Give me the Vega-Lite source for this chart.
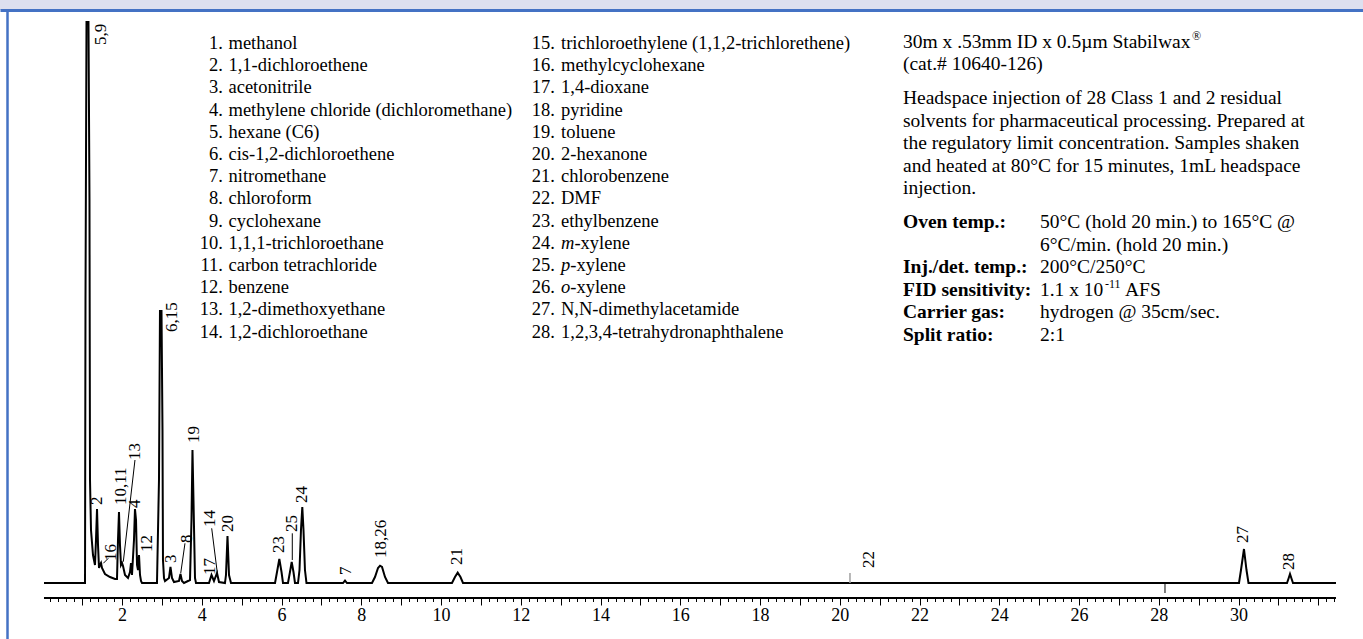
{
  "$schema": "https://vega.github.io/schema/vega-lite/v6.json",
  "width": 1363,
  "height": 629,
  "autosize": {"type": "none"},
  "padding": {"left": 0, "top": 10, "right": 0, "bottom": 0},
  "background": "#dde0ef",
  "config": {
    "view": {"fill": "white", "stroke": null},
    "font": "Liberation Serif",
    "text": {"font": "Liberation Serif", "color": "black"}
  },
  "datasets": {
    "chrom": [
      {"t":0.043,"s":0},{"t":1.047,"s":0},{"t":1.072,"s":0},{"t":1.084,"s":28.3},{"t":1.109,"s":56.1},{"t":1.159,"s":56.1},{"t":1.184,"s":38.3},{"t":1.197,"s":10.3},{"t":1.222,"s":5.3},{"t":1.272,"s":2.8},{"t":1.322,"s":1.8},{"t":1.347,"s":4.3},{"t":1.373,"s":7.4},{"t":1.398,"s":3.8},{"t":1.423,"s":1.5},{"t":1.448,"s":1.8},{"t":1.473,"s":2.0},{"t":1.498,"s":1.5},{"t":1.573,"s":0.9},{"t":1.699,"s":0.6},{"t":1.824,"s":0.4},{"t":1.874,"s":0.4},{"t":1.899,"s":4.3},{"t":1.924,"s":7.1},{"t":1.949,"s":3.8},{"t":1.974,"s":1.8},{"t":2.0,"s":2.0},{"t":2.025,"s":1.7},{"t":2.075,"s":0.8},{"t":2.15,"s":0.5},{"t":2.2,"s":1.1},{"t":2.225,"s":2.0},{"t":2.25,"s":0.8},{"t":2.3,"s":4.3},{"t":2.325,"s":7.4},{"t":2.351,"s":6.3},{"t":2.376,"s":1.8},{"t":2.401,"s":1.3},{"t":2.426,"s":2.8},{"t":2.451,"s":0.8},{"t":2.476,"s":0.2},{"t":2.501,"s":0},{"t":2.877,"s":0},{"t":2.927,"s":10.3},{"t":2.952,"s":27.2},{"t":2.99,"s":27.2},{"t":3.015,"s":15.3},{"t":3.027,"s":2.3},{"t":3.053,"s":0.5},{"t":3.078,"s":0.2},{"t":3.178,"s":0.5},{"t":3.215,"s":1.6},{"t":3.253,"s":0.5},{"t":3.303,"s":0.1},{"t":3.429,"s":0.2},{"t":3.466,"s":0.9},{"t":3.504,"s":0.2},{"t":3.554,"s":0},{"t":3.705,"s":0.3},{"t":3.742,"s":6.3},{"t":3.767,"s":13.3},{"t":3.792,"s":8.3},{"t":3.83,"s":0.5},{"t":3.855,"s":0},{"t":4.181,"s":0},{"t":4.244,"s":0.8},{"t":4.306,"s":0.2},{"t":4.382,"s":1.0},{"t":4.432,"s":0.1},{"t":4.582,"s":0},{"t":4.607,"s":0.8},{"t":4.645,"s":4.7},{"t":4.683,"s":0.8},{"t":4.733,"s":0},{"t":5.837,"s":0},{"t":5.887,"s":1.1},{"t":5.945,"s":2.4},{"t":6.0,"s":1.1},{"t":6.037,"s":0},{"t":6.162,"s":0},{"t":6.212,"s":1.1},{"t":6.255,"s":2.1},{"t":6.3,"s":1.1},{"t":6.338,"s":0},{"t":6.413,"s":0},{"t":6.451,"s":1.3},{"t":6.488,"s":5.3},{"t":6.521,"s":7.6},{"t":6.551,"s":5.3},{"t":6.588,"s":1.3},{"t":6.626,"s":0},{"t":7.542,"s":0},{"t":7.592,"s":0.25},{"t":7.642,"s":0},{"t":8.269,"s":0},{"t":8.344,"s":0.6},{"t":8.42,"s":1.5},{"t":8.47,"s":1.73},{"t":8.52,"s":1.6},{"t":8.595,"s":0.6},{"t":8.67,"s":0},{"t":10.275,"s":0},{"t":10.35,"s":0.6},{"t":10.418,"s":1.03},{"t":10.488,"s":0.6},{"t":10.551,"s":0},{"t":30.012,"s":0},{"t":30.062,"s":1.3},{"t":30.137,"s":3.4},{"t":30.2,"s":1.3},{"t":30.25,"s":0},{"t":31.216,"s":0},{"t":31.259,"s":0.5},{"t":31.291,"s":0.9},{"t":31.324,"s":0.5},{"t":31.366,"s":0},{"t":32.444,"s":0}
    ],
    "peaklabels": [
      {"label":"5,9","t":1.485,"s":53.8},
      {"label":"2","t":1.385,"s":7.8},
      {"label":"16","t":1.724,"s":2.2},
      {"label":"10,11","t":1.967,"s":7.8},
      {"label":"13","t":2.325,"s":12.3},
      {"label":"4","t":2.338,"s":7.5},
      {"label":"12","t":2.619,"s":3.1},
      {"label":"6,15","t":3.246,"s":25.1},
      {"label":"3","t":3.221,"s":2.0},
      {"label":"8","t":3.637,"s":4.0},
      {"label":"19","t":3.813,"s":14.0},
      {"label":"17","t":4.206,"s":0.8},
      {"label":"14","t":4.206,"s":5.6},
      {"label":"20","t":4.65,"s":5.1},
      {"label":"23","t":5.944,"s":3.0},
      {"label":"25","t":6.27,"s":5.1},
      {"label":"24","t":6.521,"s":8.0},
      {"label":"7","t":7.609,"s":0.8},
      {"label":"18,26","t":8.495,"s":2.5},
      {"label":"21","t":10.393,"s":1.8},
      {"label":"22","t":20.733,"s":1.5},
      {"label":"27","t":30.119,"s":4.0},
      {"label":"28","t":31.265,"s":1.3}
    ],
    "leaders": [
      {"peak":"16","t1":1.531,"s1":1.97,"t2":1.656,"s2":2.47},
      {"peak":"13","t1":2.032,"s1":2.13,"t2":2.325,"s2":12.3},
      {"peak":"8","t1":3.472,"s1":0.97,"t2":3.579,"s2":3.97},
      {"peak":"14","t1":4.249,"s1":5.47,"t2":4.389,"s2":1.03},
      {"peak":"25","t1":6.27,"s1":4.97,"t2":6.27,"s2":2.3}
    ],
    "legend": [
      {"col":1,"row":0,"num":"1.","name":"methanol"},
      {"col":1,"row":1,"num":"2.","name":"1,1-dichloroethene"},
      {"col":1,"row":2,"num":"3.","name":"acetonitrile"},
      {"col":1,"row":3,"num":"4.","name":"methylene chloride (dichloromethane)"},
      {"col":1,"row":4,"num":"5.","name":"hexane (C6)"},
      {"col":1,"row":5,"num":"6.","name":"cis-1,2-dichloroethene"},
      {"col":1,"row":6,"num":"7.","name":"nitromethane"},
      {"col":1,"row":7,"num":"8.","name":"chloroform"},
      {"col":1,"row":8,"num":"9.","name":"cyclohexane"},
      {"col":1,"row":9,"num":"10.","name":"1,1,1-trichloroethane"},
      {"col":1,"row":10,"num":"11.","name":"carbon tetrachloride"},
      {"col":1,"row":11,"num":"12.","name":"benzene"},
      {"col":1,"row":12,"num":"13.","name":"1,2-dimethoxyethane"},
      {"col":1,"row":13,"num":"14.","name":"1,2-dichloroethane"},
      {"col":2,"row":0,"num":"15.","name":"trichloroethylene (1,1,2-trichlorethene)"},
      {"col":2,"row":1,"num":"16.","name":"methylcyclohexane"},
      {"col":2,"row":2,"num":"17.","name":"1,4-dioxane"},
      {"col":2,"row":3,"num":"18.","name":"pyridine"},
      {"col":2,"row":4,"num":"19.","name":"toluene"},
      {"col":2,"row":5,"num":"20.","name":"2-hexanone"},
      {"col":2,"row":6,"num":"21.","name":"chlorobenzene"},
      {"col":2,"row":7,"num":"22.","name":"DMF"},
      {"col":2,"row":8,"num":"23.","name":"ethylbenzene"},
      {"col":2,"row":9,"num":"24.","it":"m","name":"-xylene"},
      {"col":2,"row":10,"num":"25.","it":"p","name":"-xylene"},
      {"col":2,"row":11,"num":"26.","it":"o","name":"-xylene"},
      {"col":2,"row":12,"num":"27.","name":"N,N-dimethylacetamide"},
      {"col":2,"row":13,"num":"28.","name":"1,2,3,4-tetrahydronaphthalene"}
    ],
    "info": [
      {"row":0,"kind":"text","text":"30m x .53mm ID x 0.5µm Stabilwax"},
      {"row":1,"kind":"text","text":"(cat.# 10640-126)"},
      {"row":2.5,"kind":"text","text":"Headspace injection of 28 Class 1 and 2 residual"},
      {"row":3.5,"kind":"text","text":"solvents for pharmaceutical processing. Prepared at"},
      {"row":4.5,"kind":"text","text":"the regulatory limit concentration. Samples shaken"},
      {"row":5.5,"kind":"text","text":"and heated at 80°C for 15 minutes, 1mL headspace"},
      {"row":6.5,"kind":"text","text":"injection."},
      {"row":8,"kind":"label","text":"Oven temp.:"},
      {"row":8,"kind":"value","text":"50°C (hold 20 min.) to 165°C @"},
      {"row":9,"kind":"value","text":"6°C/min. (hold 20 min.)"},
      {"row":10,"kind":"label","text":"Inj./det. temp.:"},
      {"row":10,"kind":"value","text":"200°C/250°C"},
      {"row":11,"kind":"label","text":"FID sensitivity:"},
      {"row":11,"kind":"value","text":"1.1 x 10"},
      {"row":12,"kind":"label","text":"Carrier gas:"},
      {"row":12,"kind":"value","text":"hydrogen @ 35cm/sec."},
      {"row":13,"kind":"label","text":"Split ratio:"},
      {"row":13,"kind":"value","text":"2:1"},
      {"row":0,"kind":"reg","text":"®"},
      {"row":11,"kind":"sup","text":"-11"},
      {"row":11,"kind":"afs","text":"AFS"}
    ]
  },
  "resolve": {"scale": {"y": "independent"}, "axis": {"x": "independent", "y": "independent"}},
  "layer": [
    {
      "data": {"name": "chrom"},
      "mark": {"type": "line", "color": "black", "strokeWidth": 2, "interpolate": "linear"},
      "encoding": {
        "x": {"field": "t", "type": "quantitative",
              "scale": {"domain": [-1.0601, 33.1218], "nice": false, "zero": false},
              "axis": {"orient": "bottom", "offset": -41, "values": [1,2,3,4,5,6,7,8,9,10,11,12,13,14,15,16,17,18,19,20,21,22,23,24,25,26,27,28,29,30,31,32],
                       "domain": false, "grid": false, "tickSize": 7, "tickWidth": 1, "tickColor": "black",
                       "labelExpr": "datum.value % 2 == 0 && datum.value <= 30 ? datum.label : ''",
                       "labelFont": "Liberation Serif", "labelFontSize": 18, "labelColor": "black", "labelPadding": 1,
                       "labelFlush": false, "labelOverlap": false, "title": null}},
        "y": {"field": "s", "type": "quantitative",
              "scale": {"domain": [-5.6, 57.3], "nice": false, "zero": false},
              "axis": {"orient": "left", "offset": -7, "domain": true, "domainColor": "#4472c4", "domainWidth": 2.5,
                       "ticks": false, "labels": false, "grid": false, "title": null}}
      }
    },
    {
      "data": {"values": [{"from": 0.043, "to": 32.444, "level": -1.5}]},
      "mark": {"type": "rule", "color": "black", "strokeWidth": 2},
      "encoding": {
        "x": {"field": "from", "type": "quantitative",
              "scale": {"domain": [-1.0601, 33.1218], "nice": false, "zero": false},
              "axis": {"orient": "bottom", "offset": -41, "values": [0.2,0.4,0.6,0.8,1.2,1.4,1.6,1.8,2.2,2.4,2.6,2.8,3.2,3.4,3.6,3.8,4.2,4.4,4.6,4.8,5.2,5.4,5.6,5.8,6.2,6.4,6.6,6.8,7.2,7.4,7.6,7.8,8.2,8.4,8.6,8.8,9.2,9.4,9.6,9.8,10.2,10.4,10.6,10.8,11.2,11.4,11.6,11.8,12.2,12.4,12.6,12.8,13.2,13.4,13.6,13.8,14.2,14.4,14.6,14.8,15.2,15.4,15.6,15.8,16.2,16.4,16.6,16.8,17.2,17.4,17.6,17.8,18.2,18.4,18.6,18.8,19.2,19.4,19.6,19.8,20.2,20.4,20.6,20.8,21.2,21.4,21.6,21.8,22.2,22.4,22.6,22.8,23.2,23.4,23.6,23.8,24.2,24.4,24.6,24.8,25.2,25.4,25.6,25.8,26.2,26.4,26.6,26.8,27.2,27.4,27.6,27.8,28.2,28.4,28.6,28.8,29.2,29.4,29.6,29.8,30.2,30.4,30.6,30.8,31.2,31.4,31.6,31.8,32.2,32.4],
                       "domain": false, "labels": false, "grid": false, "tickSize": 3.5, "tickWidth": 1, "tickColor": "black", "title": null}},
        "x2": {"field": "to"},
        "y": {"field": "level", "type": "quantitative", "scale": {"domain": [-5.6, 57.3], "nice": false, "zero": false}, "axis": null}
      }
    },
    {
      "data": {"values": [{"peak": "22", "t": 20.256, "lo": 0, "hi": 1.0}]},
      "mark": {"type": "rule", "color": "#a0a0a0", "strokeWidth": 1.5},
      "encoding": {
        "x": {"field": "t", "type": "quantitative",
              "scale": {"domain": [-1.0601, 33.1218], "nice": false, "zero": false},
              "axis": {"orient": "top", "domain": true, "domainColor": "#4472c4", "domainWidth": 3,
                       "ticks": false, "labels": false, "grid": false, "title": null}},
        "y": {"field": "lo", "type": "quantitative", "scale": {"domain": [-5.6, 57.3], "nice": false, "zero": false}, "axis": null},
        "y2": {"field": "hi"}
      }
    },
    {
      "data": {"values": [{"event": "mark", "t": 28.156, "lo": -1.0, "hi": 0}]},
      "mark": {"type": "rule", "color": "black", "strokeWidth": 1},
      "encoding": {
        "x": {"field": "t", "type": "quantitative", "scale": {"domain": [-1.0601, 33.1218], "nice": false, "zero": false}, "axis": null},
        "y": {"field": "lo", "type": "quantitative", "scale": {"domain": [-5.6, 57.3], "nice": false, "zero": false}, "axis": null},
        "y2": {"field": "hi"}
      }
    },
    {
      "data": {"name": "leaders"},
      "mark": {"type": "rule", "color": "black", "strokeWidth": 1},
      "encoding": {
        "x": {"field": "t1", "type": "quantitative", "scale": {"domain": [-1.0601, 33.1218], "nice": false, "zero": false}, "axis": null},
        "x2": {"field": "t2"},
        "y": {"field": "s1", "type": "quantitative", "scale": {"domain": [-5.6, 57.3], "nice": false, "zero": false}, "axis": null},
        "y2": {"field": "s2"}
      }
    },
    {
      "data": {"name": "peaklabels"},
      "mark": {"type": "text", "angle": 270, "align": "left", "baseline": "middle", "fontSize": 17, "font": "Liberation Serif", "color": "black"},
      "encoding": {
        "x": {"field": "t", "type": "quantitative", "scale": {"domain": [-1.0601, 33.1218], "nice": false, "zero": false}, "axis": null},
        "y": {"field": "s", "type": "quantitative", "scale": {"domain": [-5.6, 57.3], "nice": false, "zero": false}, "axis": null},
        "text": {"field": "label"}
      }
    },
    {
      "data": {"name": "legend"},
      "transform": [{"filter": "datum.col == 1"}],
      "mark": {"type": "text", "align": "right", "baseline": "middle", "fontSize": 18.5},
      "encoding": {
        "x": {"datum": 4.532, "type": "quantitative", "scale": {"domain": [-1.0601, 33.1218], "nice": false, "zero": false}, "axis": null},
        "y": {"field": "row", "type": "quantitative", "scale": {"domain": [-1.4865, 26.847], "nice": false, "zero": false, "reverse": true}, "axis": null},
        "text": {"field": "num"}
      }
    },
    {
      "data": {"name": "legend"},
      "transform": [{"filter": "datum.col == 1"}],
      "mark": {"type": "text", "align": "left", "baseline": "middle", "fontSize": 18.5},
      "encoding": {
        "x": {"datum": 4.67, "type": "quantitative", "scale": {"domain": [-1.0601, 33.1218], "nice": false, "zero": false}, "axis": null},
        "y": {"field": "row", "type": "quantitative", "scale": {"domain": [-1.4865, 26.847], "nice": false, "zero": false, "reverse": true}, "axis": null},
        "text": {"field": "name"}
      }
    },
    {
      "data": {"name": "legend"},
      "transform": [{"filter": "datum.col == 2"}],
      "mark": {"type": "text", "align": "right", "baseline": "middle", "fontSize": 18.5},
      "encoding": {
        "x": {"datum": 12.858, "type": "quantitative", "scale": {"domain": [-1.0601, 33.1218], "nice": false, "zero": false}, "axis": null},
        "y": {"field": "row", "type": "quantitative", "scale": {"domain": [-1.4865, 26.847], "nice": false, "zero": false, "reverse": true}, "axis": null},
        "text": {"field": "num"}
      }
    },
    {
      "data": {"name": "legend"},
      "transform": [{"filter": "datum.col == 2 && !datum.it"}],
      "mark": {"type": "text", "align": "left", "baseline": "middle", "fontSize": 18.5},
      "encoding": {
        "x": {"datum": 13.009, "type": "quantitative", "scale": {"domain": [-1.0601, 33.1218], "nice": false, "zero": false}, "axis": null},
        "y": {"field": "row", "type": "quantitative", "scale": {"domain": [-1.4865, 26.847], "nice": false, "zero": false, "reverse": true}, "axis": null},
        "text": {"field": "name"}
      }
    },
    {
      "data": {"name": "legend"},
      "transform": [{"filter": "datum.it"}],
      "mark": {"type": "text", "align": "left", "baseline": "middle", "fontSize": 18.5, "fontStyle": "italic"},
      "encoding": {
        "x": {"datum": 13.009, "type": "quantitative", "scale": {"domain": [-1.0601, 33.1218], "nice": false, "zero": false}, "axis": null},
        "y": {"field": "row", "type": "quantitative", "scale": {"domain": [-1.4865, 26.847], "nice": false, "zero": false, "reverse": true}, "axis": null},
        "text": {"field": "it"}
      }
    },
    {
      "data": {"name": "legend"},
      "transform": [{"filter": "datum.it == 'm'"}],
      "mark": {"type": "text", "align": "left", "baseline": "middle", "fontSize": 18.5, "dx": 13.4},
      "encoding": {
        "x": {"datum": 13.009, "type": "quantitative", "scale": {"domain": [-1.0601, 33.1218], "nice": false, "zero": false}, "axis": null},
        "y": {"field": "row", "type": "quantitative", "scale": {"domain": [-1.4865, 26.847], "nice": false, "zero": false, "reverse": true}, "axis": null},
        "text": {"field": "name"}
      }
    },
    {
      "data": {"name": "legend"},
      "transform": [{"filter": "datum.it == 'p' || datum.it == 'o'"}],
      "mark": {"type": "text", "align": "left", "baseline": "middle", "fontSize": 18.5, "dx": 9.3},
      "encoding": {
        "x": {"datum": 13.009, "type": "quantitative", "scale": {"domain": [-1.0601, 33.1218], "nice": false, "zero": false}, "axis": null},
        "y": {"field": "row", "type": "quantitative", "scale": {"domain": [-1.4865, 26.847], "nice": false, "zero": false, "reverse": true}, "axis": null},
        "text": {"field": "name"}
      }
    },
    {
      "data": {"name": "info"},
      "transform": [{"filter": "datum.kind == 'text'"}],
      "mark": {"type": "text", "align": "left", "baseline": "middle", "fontSize": 19.5},
      "encoding": {
        "x": {"datum": 21.585, "type": "quantitative", "scale": {"domain": [-1.0601, 33.1218], "nice": false, "zero": false}, "axis": null},
        "y": {"field": "row", "type": "quantitative", "scale": {"domain": [-1.4058, 26.4878], "nice": false, "zero": false, "reverse": true}, "axis": null},
        "text": {"field": "text"}
      }
    },
    {
      "data": {"name": "info"},
      "transform": [{"filter": "datum.kind == 'label'"}],
      "mark": {"type": "text", "align": "left", "baseline": "middle", "fontSize": 19.5, "fontWeight": "bold"},
      "encoding": {
        "x": {"datum": 21.585, "type": "quantitative", "scale": {"domain": [-1.0601, 33.1218], "nice": false, "zero": false}, "axis": null},
        "y": {"field": "row", "type": "quantitative", "scale": {"domain": [-1.4058, 26.4878], "nice": false, "zero": false, "reverse": true}, "axis": null},
        "text": {"field": "text"}
      }
    },
    {
      "data": {"name": "info"},
      "transform": [{"filter": "datum.kind == 'value'"}],
      "mark": {"type": "text", "align": "left", "baseline": "middle", "fontSize": 19.5},
      "encoding": {
        "x": {"datum": 25.021, "type": "quantitative", "scale": {"domain": [-1.0601, 33.1218], "nice": false, "zero": false}, "axis": null},
        "y": {"field": "row", "type": "quantitative", "scale": {"domain": [-1.4058, 26.4878], "nice": false, "zero": false, "reverse": true}, "axis": null},
        "text": {"field": "text"}
      }
    },
    {
      "data": {"name": "info"},
      "transform": [{"filter": "datum.kind == 'reg'"}],
      "mark": {"type": "text", "align": "left", "baseline": "middle", "fontSize": 12, "dy": -6},
      "encoding": {
        "x": {"datum": 28.833, "type": "quantitative", "scale": {"domain": [-1.0601, 33.1218], "nice": false, "zero": false}, "axis": null},
        "y": {"field": "row", "type": "quantitative", "scale": {"domain": [-1.4058, 26.4878], "nice": false, "zero": false, "reverse": true}, "axis": null},
        "text": {"field": "text"}
      }
    },
    {
      "data": {"name": "info"},
      "transform": [{"filter": "datum.kind == 'sup'"}],
      "mark": {"type": "text", "align": "left", "baseline": "middle", "fontSize": 12, "dy": -6},
      "encoding": {
        "x": {"datum": 26.652, "type": "quantitative", "scale": {"domain": [-1.0601, 33.1218], "nice": false, "zero": false}, "axis": null},
        "y": {"field": "row", "type": "quantitative", "scale": {"domain": [-1.4058, 26.4878], "nice": false, "zero": false, "reverse": true}, "axis": null},
        "text": {"field": "text"}
      }
    },
    {
      "data": {"name": "info"},
      "transform": [{"filter": "datum.kind == 'afs'"}],
      "mark": {"type": "text", "align": "left", "baseline": "middle", "fontSize": 19.5},
      "encoding": {
        "x": {"datum": 27.153, "type": "quantitative", "scale": {"domain": [-1.0601, 33.1218], "nice": false, "zero": false}, "axis": null},
        "y": {"field": "row", "type": "quantitative", "scale": {"domain": [-1.4058, 26.4878], "nice": false, "zero": false, "reverse": true}, "axis": null},
        "text": {"field": "text"}
      }
    }
  ]
}
